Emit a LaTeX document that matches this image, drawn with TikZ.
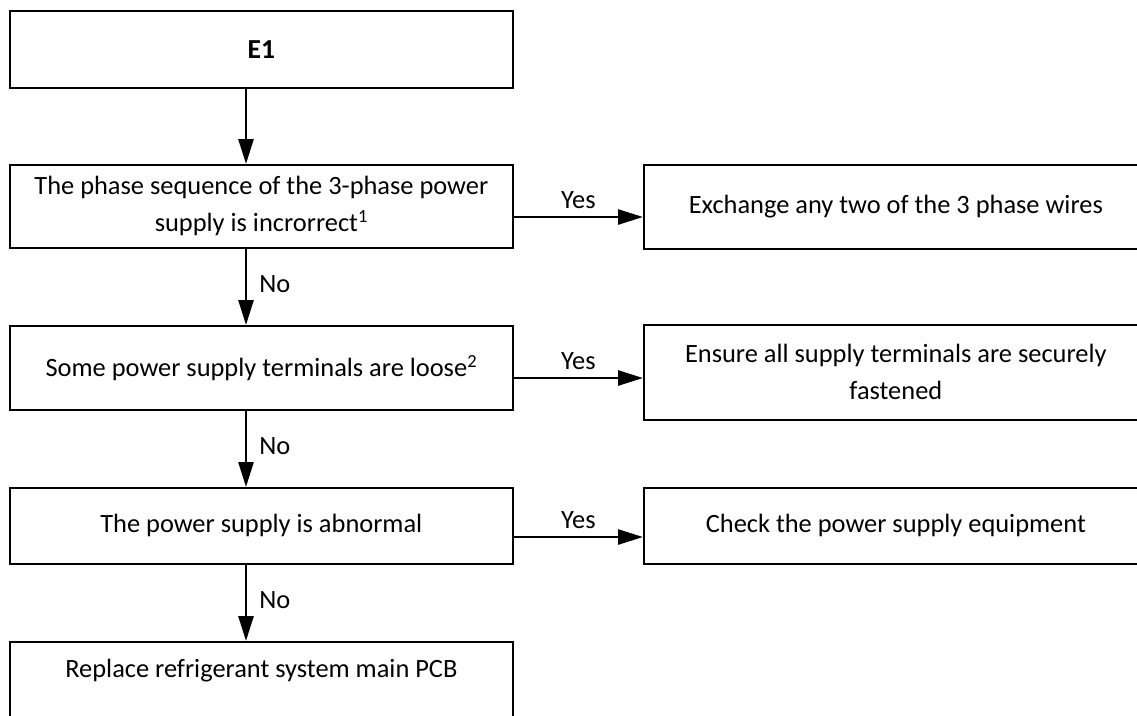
\documentclass[tikz,border=0pt]{standalone}
\usepackage{fontspec}
\setmainfont{Carlito}
\usetikzlibrary{arrows.meta}
\begin{document}
\begin{tikzpicture}[x=1pt,y=-1pt,
  box/.style={draw, line width=1.7pt, rectangle, inner sep=0pt, anchor=north west,
    font=\fontsize{26.4}{37}\selectfont, align=center},
  flow/.style={line width=2.7pt, -{Triangle[length=25pt,width=15pt]}},
  lbl/.style={font=\fontsize{26.4}{30}\selectfont, inner sep=0pt}]
\useasboundingbox (0,0) rectangle (1137,715);
\clip (0,0) rectangle (1137,715);
% left column
\node[box, minimum width=503pt, minimum height=77pt, font=\fontsize{27.5}{33}\selectfont\bfseries] (e1) at (9,10) {E1};
\node[box, minimum width=503pt, minimum height=83pt] (p1) at (9,164)
  {The phase sequence of the 3-phase power\\supply is incrorrect\textsuperscript{1}};
\node[box, minimum width=503pt, minimum height=84pt] (p2) at (9,325)
  {Some power supply terminals are loose\textsuperscript{2}};
\node[box, minimum width=503pt, minimum height=76pt] (p3) at (9,487)
  {The power supply is abnormal};
\node[box, minimum width=503pt, minimum height=80pt, text height=19pt, text depth=28pt] (p4) at (9,641)
  {Replace refrigerant system main PCB};
% right column
\node[box, minimum width=504pt, minimum height=84pt] (r1) at (643,164)
  {Exchange any two of the 3 phase wires};
\node[box, minimum width=504pt, minimum height=95pt] (r2) at (643,324)
  {Ensure all supply terminals are securely\\fastened};
\node[box, minimum width=504pt, minimum height=76pt] (r3) at (643,487)
  {Check the power supply equipment};
% helper coordinates
\coordinate (ax) at (246,0);
\coordinate (y1) at (0,217);
\coordinate (y2) at (0,378);
\coordinate (y3) at (0,537);
% vertical connectors
\draw[flow] (e1.south -| ax) -- (p1.north -| ax);
\draw[flow] (p1.south -| ax) -- node[lbl, anchor=west, xshift=12pt, yshift=3pt] {No} (p2.north -| ax);
\draw[flow] (p2.south -| ax) -- node[lbl, anchor=west, xshift=12pt, yshift=3pt] {No} (p3.north -| ax);
\draw[flow] (p3.south -| ax) -- node[lbl, anchor=west, xshift=12pt, yshift=3pt] {No} (p4.north -| ax);
% horizontal connectors
\draw[flow] (p1.east |- y1) -- node[lbl, above=7pt] {Yes} (r1.west |- y1);
\draw[flow] (p2.east |- y2) -- node[lbl, above=7pt] {Yes} (r2.west |- y2);
\draw[flow] (p3.east |- y3) -- node[lbl, above=7pt] {Yes} (r3.west |- y3);
\end{tikzpicture}
\end{document}
